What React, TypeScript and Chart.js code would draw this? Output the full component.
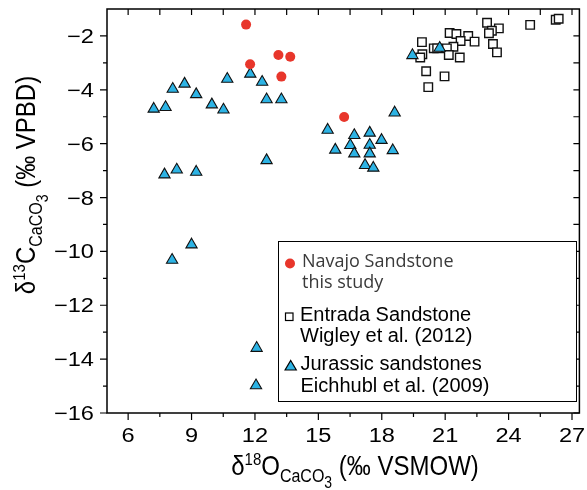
import React, { useEffect, useRef } from "react";
import { Chart, registerables } from "chart.js";
Chart.register(...registerables);

// ---- data ----
const navajoX = [11.58, 11.77, 13.11, 13.67, 13.25, 16.22];
const navajoY = [-1.58, -3.05, -2.71, -2.77, -3.51, -5.01];

const entradaX = [19.9, 19.92, 19.82, 20.46, 20.62, 21.21, 21.53, 22.09, 21.73, 22.39, 21.39, 21.08, 21.17, 21.69, 20.1, 20.97, 20.2, 22.98, 23.54, 23.21, 23.07, 23.26, 23.45, 25.02, 26.23, 26.37];
const entradaY = [-2.23, -2.68, -2.8, -2.46, -2.46, -1.89, -1.93, -2.0, -2.19, -2.21, -2.4, -2.46, -2.71, -2.8, -3.31, -3.5, -3.9, -1.51, -1.72, -1.81, -1.9, -2.3, -2.61, -1.59, -1.4, -1.36];

const jurassicX = [7.21, 7.77, 8.11, 8.67, 9.22, 9.96, 10.51, 10.69, 11.78, 12.34, 12.55, 13.25, 12.55, 7.72, 8.3, 9.22, 9.0, 8.08, 12.08, 12.05, 19.45, 20.74, 18.61, 15.44, 16.7, 17.43, 17.99, 15.8, 16.51, 17.43, 18.52, 16.7, 17.43, 17.21, 17.6];
const jurassicY = [-4.71, -4.65, -3.97, -3.78, -4.17, -4.55, -4.74, -3.6, -3.41, -3.71, -4.36, -4.36, -6.62, -7.15, -6.97, -7.05, -9.75, -10.32, -13.59, -14.98, -2.72, -2.45, -4.85, -5.49, -5.69, -5.6, -5.87, -6.23, -6.06, -6.05, -6.25, -6.37, -6.37, -6.8, -6.9];

const xTickValues = [6, 9, 12, 15, 18, 21, 24, 27];
const yTickValues = [-16, -14, -12, -10, -8, -6, -4, -2];
const X_MIN = 5, X_MAX = 27.35, Y_MIN = -16, Y_MAX = -1;

const legendNavajo = ["Navajo Sandstone", "this study"];
const legendEntrada = ["Entrada Sandstone", "Wigley et al. (2012)"];
const legendJurassic = ["Jurassic sandstones", "Eichhubl et al. (2009)"];

const RED = "#e8362b";
const BLUE = "#2db3e4";
const FONT = '"Liberation Sans", Arial, Helvetica, sans-serif';
const TICK_STRETCH = 1.18;
const TITLE_STRETCH_Y = 1.13;

const toPts = (xs: number[], ys: number[]) => xs.map((x, i) => ({ x, y: ys[i] }));
const fmt = (v: number) => (v < 0 ? "\u2212" + Math.abs(v) : String(v));

type Part = { t: string; size: number; dy: number };
function drawRich(ctx: CanvasRenderingContext2D, parts: Part[], cx: number, baseline: number) {
  let total = 0;
  for (const p of parts) {
    ctx.font = `${p.size}px ${FONT}`;
    total += ctx.measureText(p.t).width;
  }
  ctx.save();
  ctx.translate(cx - total / 2, baseline);
  ctx.scale(1, TITLE_STRETCH_Y);
  let x = 0;
  ctx.textAlign = "left";
  ctx.textBaseline = "alphabetic";
  for (const p of parts) {
    ctx.font = `${p.size}px ${FONT}`;
    ctx.fillText(p.t, x, p.dy / TITLE_STRETCH_Y);
    x += ctx.measureText(p.t).width;
  }
  ctx.restore();
}

function drawStretched(ctx: CanvasRenderingContext2D, text: string, x: number, y: number, align: CanvasTextAlign) {
  ctx.save();
  ctx.translate(x, y);
  ctx.scale(TICK_STRETCH, 1);
  ctx.textAlign = align;
  ctx.textBaseline = "alphabetic";
  ctx.fillText(text, 0, 0);
  ctx.restore();
}

const decorPlugin = {
  id: "decor",
  afterDraw(chart: any) {
    const ctx: CanvasRenderingContext2D = chart.ctx;
    const { left, right, top, bottom } = chart.chartArea;
    const xs = chart.scales.x;
    const ys = chart.scales.y;
    ctx.save();
    ctx.strokeStyle = "#000";
    ctx.fillStyle = "#000";
    ctx.lineWidth = 1.5;
    ctx.strokeRect(left, top, right - left, bottom - top);
    ctx.lineWidth = 1.2;
    ctx.beginPath();
    for (let v = 6; v <= 27.01; v += 1.5) {
      const px = xs.getPixelForValue(v);
      const major = Math.abs(v % 3) < 0.01;
      ctx.moveTo(px, bottom);
      ctx.lineTo(px, bottom + (major ? 7 : 4));
      ctx.moveTo(px, top);
      ctx.lineTo(px, top + 6);
    }
    for (let v = -16; v <= -2; v += 1) {
      const py = ys.getPixelForValue(v);
      const major = v % 2 === 0;
      ctx.moveTo(left - (major ? 7 : 4), py);
      ctx.lineTo(left, py);
      ctx.moveTo(right - 6, py);
      ctx.lineTo(right, py);
    }
    ctx.stroke();

    // tick labels
    ctx.fillStyle = "#000";
    ctx.font = `20px ${FONT}`;
    for (const v of xTickValues) {
      drawStretched(ctx, fmt(v), xs.getPixelForValue(v), 442, "center");
    }
    for (const v of yTickValues) {
      drawStretched(ctx, fmt(v), 94, ys.getPixelForValue(v) + 7, "right");
    }

    // axis titles
    drawRich(ctx, [
      { t: "\u03b4", size: 24, dy: 0 },
      { t: "18", size: 15, dy: -10 },
      { t: "O", size: 24, dy: 0 },
      { t: "CaCO", size: 16, dy: 7 },
      { t: "3", size: 14, dy: 13 },
      { t: " (\u2030 VSMOW)", size: 24, dy: 0 },
    ], 355, 475);

    ctx.save();
    ctx.translate(35, 185);
    ctx.rotate(-Math.PI / 2);
    drawRich(ctx, [
      { t: "\u03b4", size: 24, dy: 0 },
      { t: "13", size: 15, dy: -10 },
      { t: "C", size: 24, dy: 0 },
      { t: "CaCO", size: 16, dy: 7 },
      { t: "3", size: 14, dy: 13 },
      { t: " (\u2030 VPBD)", size: 24, dy: 0 },
    ], 0, 0);
    ctx.restore();

    // legend
    ctx.lineWidth = 1;
    ctx.fillStyle = "#fff";
    ctx.fillRect(278.5, 241.5, 298, 160);
    ctx.strokeStyle = "#000";
    ctx.strokeRect(278.5, 241.5, 298, 160);

    ctx.fillStyle = RED;
    ctx.beginPath();
    ctx.arc(290, 263.5, 5, 0, Math.PI * 2);
    ctx.fill();

    ctx.fillStyle = "#fff";
    ctx.strokeStyle = "#000";
    ctx.lineWidth = 1.2;
    ctx.fillRect(285.5, 313, 7.5, 7.5);
    ctx.strokeRect(285.5, 313, 7.5, 7.5);

    ctx.fillStyle = BLUE;
    ctx.beginPath();
    ctx.moveTo(290.7, 360.5);
    ctx.lineTo(296.3, 370);
    ctx.lineTo(285.1, 370);
    ctx.closePath();
    ctx.fill();
    ctx.stroke();

    ctx.textAlign = "left";
    ctx.textBaseline = "alphabetic";
    ctx.fillStyle = "#3a3a3a";
    ctx.font = '18px "Open Sans", sans-serif';
    ctx.fillText(legendNavajo[0], 302, 267);
    ctx.fillText(legendNavajo[1], 302, 288);
    ctx.fillStyle = "#000";
    ctx.font = `20px ${FONT}`;
    ctx.fillText(legendEntrada[0], 300, 321);
    ctx.fillText(legendEntrada[1], 300, 342);
    ctx.fillText(legendJurassic[0], 300.5, 370);
    ctx.fillText(legendJurassic[1], 300.5, 391.5);
    ctx.restore();
  },
};

export default function App() {
  const ref = useRef<HTMLCanvasElement | null>(null);
  useEffect(() => {
    if (!ref.current) return;
    const chart = new Chart(ref.current, {
      type: "scatter",
      data: {
        datasets: [
          {
            label: "Navajo Sandstone",
            data: toPts(navajoX, navajoY),
            pointStyle: "circle",
            pointRadius: 5,
            backgroundColor: RED,
            borderColor: RED,
            borderWidth: 0,
            order: 0,
          },
          {
            label: "Jurassic sandstones",
            data: toPts(jurassicX, jurassicY),
            pointStyle: "triangle",
            pointRadius: 6.5,
            backgroundColor: BLUE,
            borderColor: "#111",
            borderWidth: 1.1,
            order: 1,
          },
          {
            label: "Entrada Sandstone",
            data: toPts(entradaX, entradaY),
            pointStyle: "rect",
            pointRadius: 6,
            backgroundColor: "#fff",
            borderColor: "#111",
            borderWidth: 1.4,
            order: 2,
          },
        ],
      },
      options: {
        animation: false,
        responsive: false,
        layout: { padding: { top: 9, right: 1, left: 0, bottom: 0 } },
        plugins: { legend: { display: false }, tooltip: { enabled: false } },
        scales: {
          x: {
            type: "linear",
            min: X_MIN,
            max: X_MAX,
            grid: { display: false, drawTicks: false },
            border: { display: false },
            afterBuildTicks: (s: any) => {
              s.ticks = xTickValues.map((v) => ({ value: v }));
            },
            afterFit: (s: any) => {
              s.height = 77;
            },
            ticks: { display: false },
          },
          y: {
            type: "linear",
            min: Y_MIN,
            max: Y_MAX,
            grid: { display: false, drawTicks: false },
            border: { display: false },
            afterBuildTicks: (s: any) => {
              s.ticks = yTickValues.map((v) => ({ value: v }));
            },
            afterFit: (s: any) => {
              s.width = 107;
            },
            ticks: { display: false },
          },
        },
      },
      plugins: [decorPlugin],
    });
    return () => chart.destroy();
  }, []);
  return (
    <div style={{ position: "absolute", left: 0, top: 0, width: 587, height: 490, background: "#fff" }}>
      <canvas ref={ref} width={587} height={490} style={{ display: "block" }} />
    </div>
  );
}
